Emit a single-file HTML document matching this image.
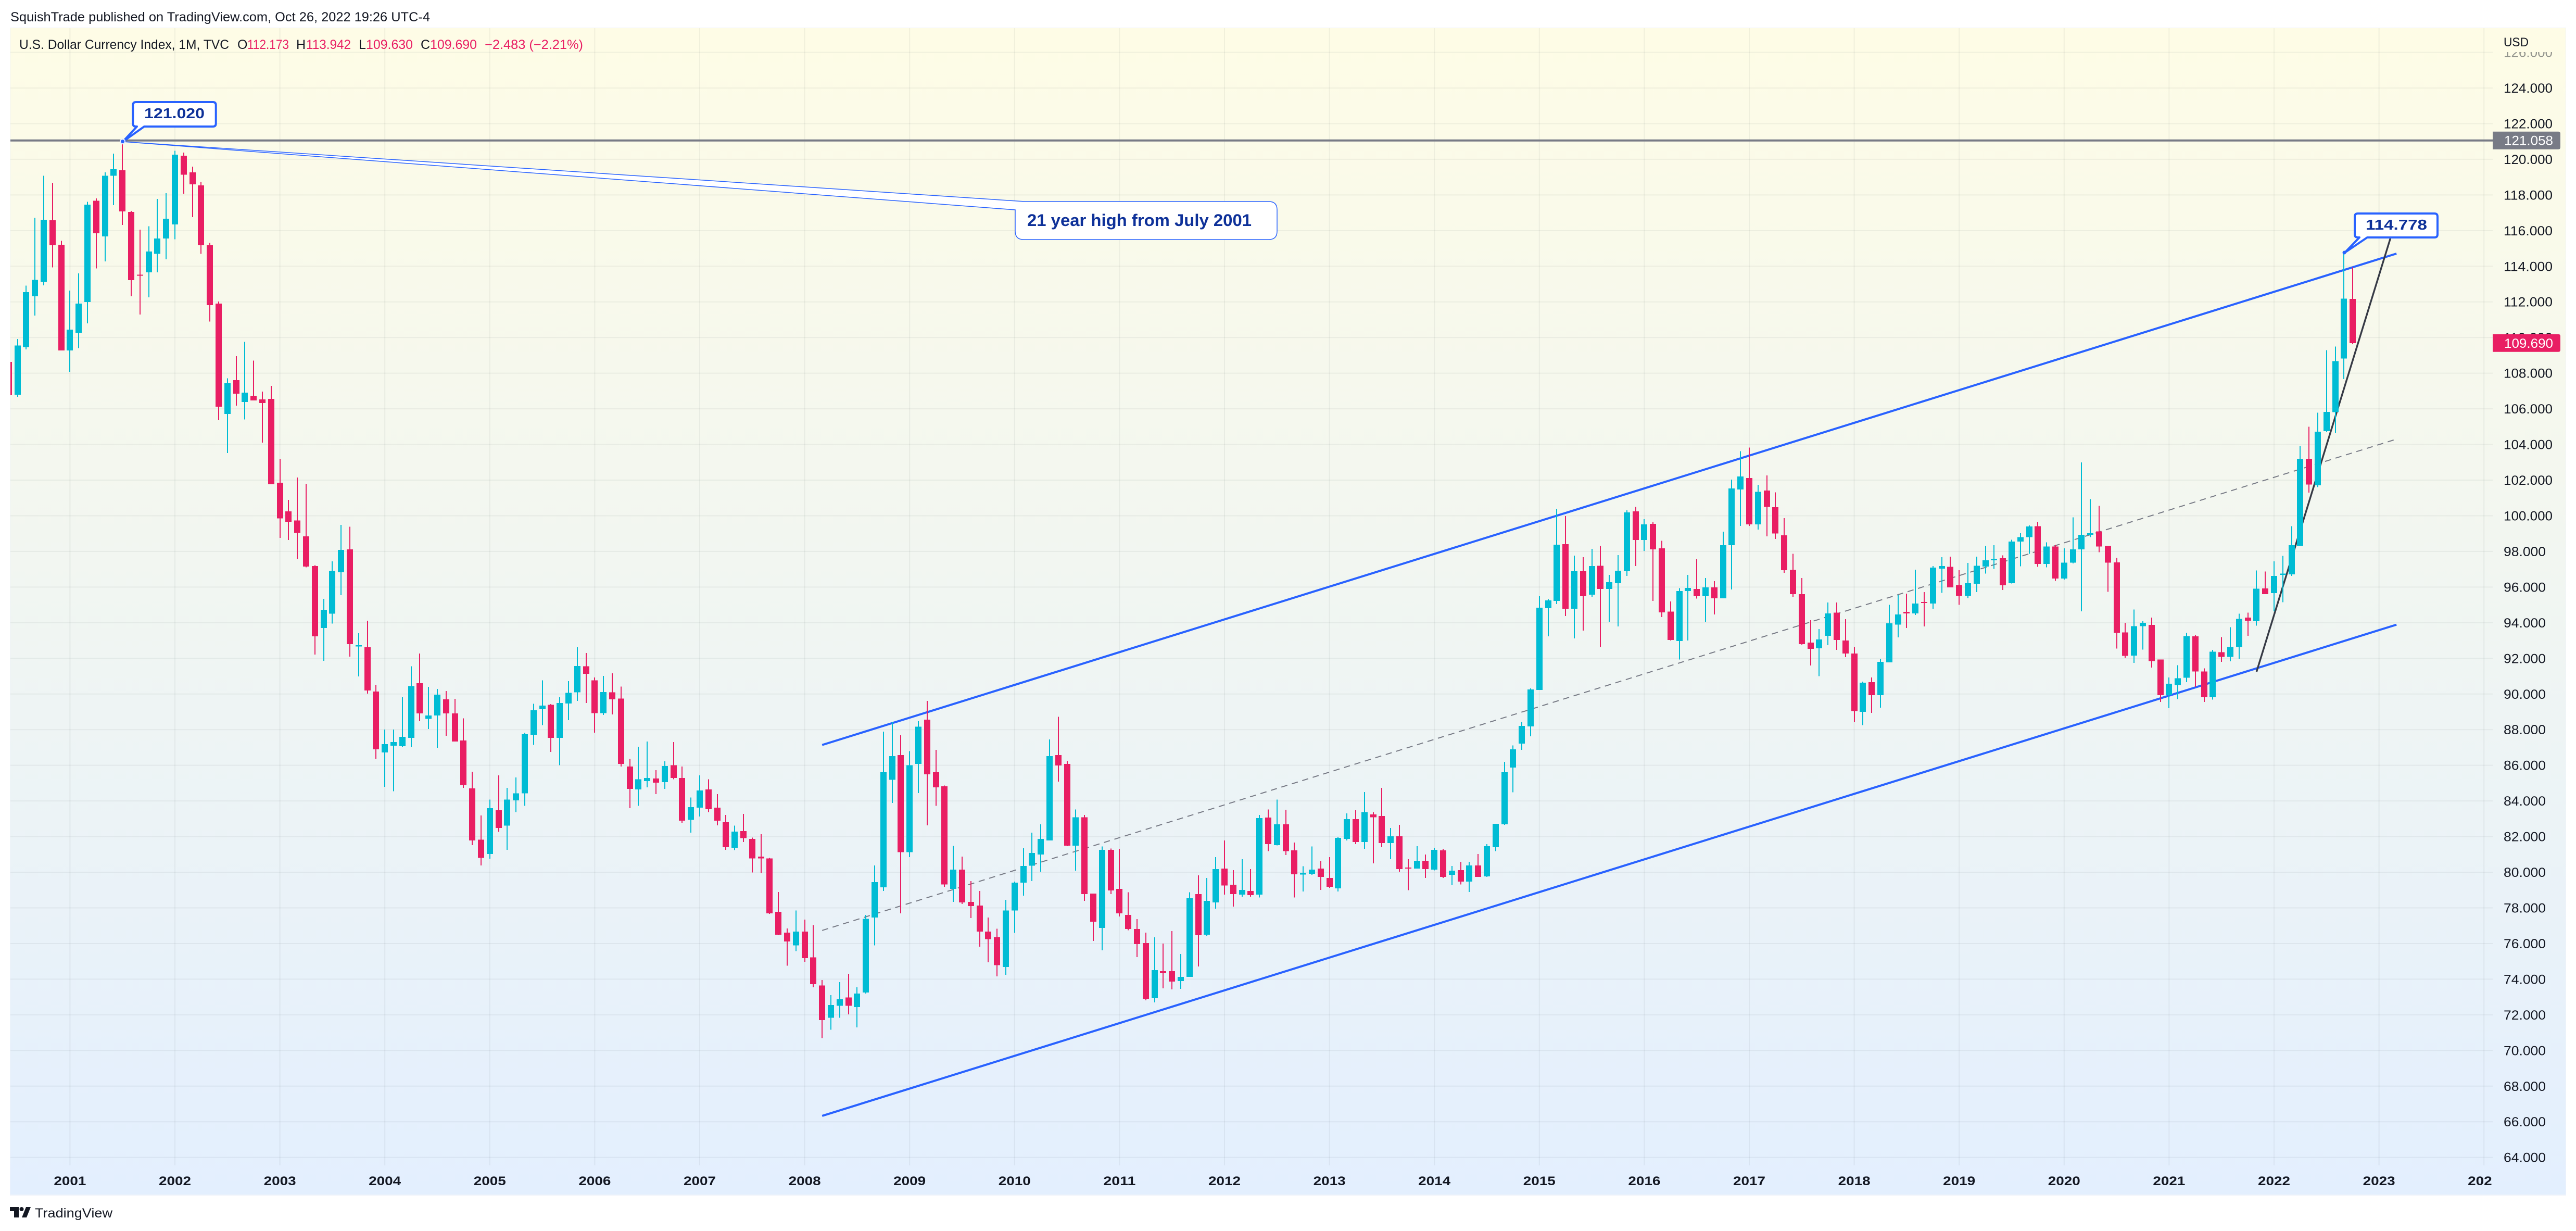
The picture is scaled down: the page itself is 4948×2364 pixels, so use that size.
<!DOCTYPE html>
<html lang="en">
<head>
<meta charset="utf-8">
<title>U.S. Dollar Currency Index, 1M, TVC</title>
<style>
html,body{margin:0;padding:0;background:#fff;width:4948px;height:2364px;overflow:hidden}
svg{display:block;font-family:"Liberation Sans",sans-serif}
</style>
</head>
<body>
<svg id="chart" xmlns="http://www.w3.org/2000/svg" width="4948" height="2364" viewBox="0 0 4948 2364">
  <defs>
    <linearGradient id="pane-bg" x1="0" y1="0" x2="0" y2="1">
      <stop offset="0" stop-color="#fefce6"/>
      <stop offset="1" stop-color="#e3effe"/>
    </linearGradient>
    <clipPath id="plot-clip"><rect x="20" y="54" width="4768" height="2184"/></clipPath>
    <clipPath id="axis-top-clip"><rect x="4788" y="100" width="140" height="2194"/></clipPath>
    <clipPath id="time-clip"><rect x="20" y="2238" width="4767" height="56"/></clipPath>
  </defs>

  <text x="20" y="41" font-size="25" fill="#131722" textLength="806" lengthAdjust="spacingAndGlyphs">SquishTrade published on TradingView.com, Oct 26, 2022 19:26 UTC-4</text>

  <rect x="19" y="53" width="4910" height="2243" fill="#f0f3fa"/>
  <rect x="20" y="54" width="4908" height="2240" fill="url(#pane-bg)"/>

  <g id="grid"></g>
  <g id="drawings" clip-path="url(#plot-clip)"></g>
  <g id="candles" clip-path="url(#plot-clip)"></g>

  <g font-size="25">
    <text x="37" y="94" fill="#131722" textLength="403" lengthAdjust="spacingAndGlyphs">U.S. Dollar Currency Index, 1M, TVC</text>
    <text x="456" y="94" fill="#131722">O</text>
    <text x="475" y="94" fill="#e91e63" textLength="80" lengthAdjust="spacingAndGlyphs">112.173</text>
    <text x="569" y="94" fill="#131722">H</text>
    <text x="588" y="94" fill="#e91e63" textLength="86" lengthAdjust="spacingAndGlyphs">113.942</text>
    <text x="689" y="94" fill="#131722">L</text>
    <text x="703" y="94" fill="#e91e63" textLength="90" lengthAdjust="spacingAndGlyphs">109.630</text>
    <text x="808" y="94" fill="#131722">C</text>
    <text x="826" y="94" fill="#e91e63" textLength="90" lengthAdjust="spacingAndGlyphs">109.690</text>
    <text x="931" y="94" fill="#e91e63" textLength="189" lengthAdjust="spacingAndGlyphs">−2.483 (−2.21%)</text>
  </g>

  <g id="callouts">
    <path d="M236,272 L1968,387 H2437 Q2453,387 2453,403 V444 Q2453,460 2437,460 H1966 Q1950,460 1950,444 V403 Z" fill="#fff" stroke="#2962ff" stroke-width="1.5"/>
    <text x="1973" y="434" font-size="32" font-weight="700" fill="#0e3199" textLength="431" lengthAdjust="spacingAndGlyphs">21 year high from July 2001</text>
    <path d="M236,272 L277,243 H409 Q414.7,243 414.7,237 V202 Q414.7,196 409,196 H261 Q255.3,196 255.3,202 V237 Q255.3,243 261,243 H263 Z" fill="#fff" stroke="#2962ff" stroke-width="4" stroke-linejoin="round"/>
    <text x="277" y="227" font-size="28" font-weight="700" fill="#0e3199" textLength="116" lengthAdjust="spacingAndGlyphs">121.020</text>
    <circle cx="235.5" cy="271.7" r="4.5" fill="#2962ff" stroke="#e8eeff" stroke-width="2"/>
    <path d="M4504,485 L4547,456 H4676 Q4682,456 4682,450 V416 Q4682,410 4676,410 H4529 Q4523,410 4523,416 V450 Q4523,456 4529,456 H4532 Z" fill="#fff" stroke="#2962ff" stroke-width="4" stroke-linejoin="round"/>
    <text x="4544" y="441" font-size="28" font-weight="700" fill="#0e3199" textLength="118" lengthAdjust="spacingAndGlyphs">114.778</text>
    <circle cx="4503" cy="485" r="3.5" fill="#2962ff"/>
  </g>

  <g id="price-axis"></g>
  <text x="4809" y="89" font-size="24" fill="#131722" textLength="48" lengthAdjust="spacingAndGlyphs">USD</text>
  <g id="time-axis" clip-path="url(#time-clip)"></g>

  <g fill="#131722">
    <path d="M19,2318 H36 V2338 H27 V2326 H19 Z"/>
    <circle cx="41.5" cy="2322" r="4"/>
    <path d="M50,2318 H59 L51,2338 H42 Z"/>
    <text x="67" y="2338" font-size="25" textLength="149" lengthAdjust="spacingAndGlyphs">TradingView</text>
  </g>
</svg>

<script>
// Chart data: monthly candles, first bar is seven months before Jan 2001.
const firstMonth = -7;
const opens = [
108.63,106.79,109.47,112.32,113.11,116.58,115.21,
109.28,110.27,111.99,117.68,115.68,119.08,119.38,117.04,113.52,113.66,114.69,115.55,
116.34,120.2,119.26,118.53,115.18,111.9,105.71,107.61,106.38,106.73,106.53,106.56,
101.86,100.25,99.73,98.84,97.18,93.71,94.5,96.83,98.12,92.67,92.62,90.14,
86.72,87.1,87.07,87.54,90.6,88.6,88.8,89.7,88.91,87.39,84.7,81.82,
81.03,83.48,82.61,84.03,84.42,87.71,89.15,89.4,87.54,89.47,90.09,91.55,
90.76,88.92,90.09,89.74,85.93,84.64,85.11,85.26,85.06,86.0,85.29,82.93,
83.62,84.64,83.62,82.81,81.37,82.31,81.87,80.88,80.78,77.78,76.61,75.89,
76.67,75.23,73.64,71.84,72.5,72.97,72.43,73.25,77.46,79.16,85.18,86.57,
81.13,86.08,88.56,85.61,84.82,79.07,80.15,78.33,78.13,76.67,76.37,74.68,
77.85,79.42,80.36,81.0,81.79,86.58,86.08,81.49,83.09,78.8,76.87,81.25,
79.06,77.6,76.82,76.03,72.93,74.45,74.45,73.9,74.13,78.78,76.49,78.31,
80.21,79.3,78.75,78.95,78.75,83.07,81.52,82.69,81.23,79.87,79.91,80.21,
79.68,79.1,81.87,82.98,81.7,83.25,83.16,81.63,82.02,80.26,80.21,80.64,
80.15,81.23,79.86,80.12,79.48,80.38,79.77,81.41,82.69,85.87,87.22,88.18,
90.23,94.82,95.22,98.4,94.78,96.89,95.57,97.2,95.9,96.21,96.89,100.25,
98.64,99.55,98.17,94.63,92.98,95.78,95.9,95.48,95.98,95.37,98.35,101.47,
102.12,99.51,101.42,100.48,98.9,96.96,95.6,92.89,92.56,93.27,94.56,93.0,
92.27,89.0,90.67,89.94,91.78,93.9,94.61,94.52,95.17,95.08,97.04,97.13,
96.12,95.5,96.19,97.15,97.5,97.62,96.22,98.55,98.8,99.42,97.3,98.27,
96.48,97.37,98.12,98.94,99.13,98.31,97.39,93.45,92.16,93.8,93.88,91.93,
89.93,90.5,90.91,93.23,91.26,89.82,92.35,92.08,92.63,94.29,94.09,95.93,
95.66,96.69,96.71,98.31,103.2,101.71,104.74,105.81,108.82,112.173];
const highs = [
108.63,109.92,112.91,116.71,119.07,118.68,115.42,
112.63,113.6,117.61,117.8,119.26,120.32,121.02,117.11,116.06,116.25,117.77,118.1,
120.48,120.38,119.59,118.72,115.31,112.02,107.71,108.96,109.75,108.71,106.97,107.29,
103.2,100.89,102.14,101.79,97.23,95.34,97.45,99.49,99.38,93.41,94.11,90.52,
88.0,88.0,89.82,91.55,92.27,90.4,90.29,90.17,89.73,88.63,85.64,83.18,
84.07,85.44,84.74,85.32,87.81,89.45,90.76,89.44,89.82,90.73,92.62,92.3,
90.93,91.01,91.16,90.41,86.35,87.04,87.34,85.73,86.23,87.31,85.93,84.2,
85.43,85.21,84.39,83.21,82.61,83.28,81.94,82.14,80.8,78.89,76.84,77.85,
77.34,77.03,73.96,73.1,73.84,74.31,73.54,77.61,80.38,87.89,88.43,87.69,
86.8,88.48,89.62,86.87,84.86,81.47,80.88,79.51,78.95,77.46,76.83,78.45,
79.47,81.35,82.22,82.69,87.45,88.72,86.24,83.52,83.21,78.8,81.44,81.33,
81.32,78.87,77.37,76.61,76.35,76.0,76.7,75.42,78.87,79.83,79.68,80.85,
81.79,80.12,80.73,80.17,83.21,83.52,84.08,83.5,81.67,80.33,81.44,80.64,
80.85,81.98,83.3,83.48,84.5,83.37,84.74,82.48,82.66,80.73,81.46,80.99,
81.37,81.31,80.35,80.59,80.59,81.02,81.58,82.72,86.2,87.12,88.43,90.32,
95.48,95.33,100.4,99.98,97.77,97.67,98.14,98.31,96.68,97.79,100.3,100.49,
99.81,99.63,98.59,95.2,95.94,96.68,97.56,96.51,96.33,99.11,102.03,103.62,
103.82,101.74,102.27,101.32,99.87,97.86,96.51,94.14,93.64,95.13,95.13,94.2,
92.63,90.7,90.93,91.97,95.01,95.57,95.63,96.97,95.72,97.18,97.67,97.7,
96.94,97.36,97.7,98.31,98.35,97.78,98.66,99.02,99.46,99.66,98.51,98.37,
98.18,99.91,103.0,100.93,100.56,98.31,97.63,94.0,94.74,94.09,94.29,91.93,
90.93,91.61,93.43,93.31,91.44,92.47,93.19,93.74,94.5,94.56,96.93,96.87,
97.45,97.75,99.41,103.92,104.99,105.79,109.29,109.5,114.778,113.942];
const lows = [
106.76,106.67,109.34,111.23,112.93,113.93,109.28,
108.08,109.4,110.8,113.87,114.27,117.43,116.31,112.32,111.29,112.26,113.66,114.39,
115.52,118.07,116.76,114.7,110.89,105.36,103.52,106.18,105.4,106.47,104.11,101.77,
98.76,98.64,97.57,97.1,92.22,91.86,93.95,95.54,92.1,90.99,90.02,86.35,
84.79,84.55,87.02,87.02,88.48,88.04,86.98,87.65,87.34,84.74,81.52,80.38,
80.76,82.27,81.25,83.38,83.73,87.14,88.26,86.75,86.01,88.53,89.62,89.5,
87.83,88.83,88.85,85.93,83.6,83.72,84.76,84.39,84.67,85.21,82.78,82.22,
83.13,83.37,82.63,81.25,81.24,81.69,79.99,79.94,77.66,76.46,74.75,75.58,
74.98,73.54,70.69,71.17,71.83,72.03,71.29,73.2,75.89,78.95,83.89,77.7,
80.85,84.44,82.63,83.72,79.19,78.33,78.22,77.43,75.82,74.95,74.16,74.24,
76.59,78.69,79.51,80.03,81.79,85.09,81.46,80.09,78.4,76.14,75.62,78.78,
77.52,76.75,75.24,72.82,72.7,73.49,73.43,73.46,74.13,74.72,76.44,77.95,
78.75,78.07,78.63,78.63,78.59,81.18,81.5,80.97,78.59,78.92,79.86,79.01,
79.13,78.92,81.79,81.58,81.32,80.5,81.41,80.73,80.03,78.99,80.21,79.68,
80.1,79.68,79.27,79.32,78.89,79.74,79.74,81.18,82.66,84.48,86.86,87.63,
90.23,93.24,95.05,94.37,93.12,93.55,95.46,92.63,94.05,93.79,96.63,97.18,
98.03,95.22,94.32,93.0,91.93,93.0,95.35,94.05,94.47,95.37,95.86,99.43,
99.43,99.23,98.85,98.7,96.8,95.46,92.77,91.6,91.0,92.74,92.47,92.06,
88.41,88.25,88.94,89.24,91.78,93.17,93.71,94.44,93.79,94.78,95.67,95.98,
95.01,95.39,95.72,96.75,97.02,95.84,96.2,97.16,97.86,97.14,97.1,96.34,
96.42,97.32,94.64,98.8,97.96,95.73,92.55,92.02,91.75,92.49,91.48,89.56,
89.21,89.72,90.66,90.4,89.56,89.68,91.81,91.83,91.96,93.27,93.84,95.6,
94.64,95.15,96.63,98.31,101.3,101.61,104.7,104.64,107.67,109.63];
const closes = [
106.76,109.56,112.55,113.24,116.61,115.18,109.28,
110.44,111.9,117.46,115.85,119.08,119.44,117.07,113.22,113.48,114.82,115.55,116.67,
120.26,119.13,118.59,115.18,111.81,106.12,107.43,106.85,106.91,106.47,106.33,101.77,
99.86,99.66,99.03,97.15,93.24,94.73,96.9,98.09,92.8,92.74,90.2,86.9,
87.19,87.3,87.6,90.45,88.91,88.8,89.97,88.91,87.34,84.89,81.79,80.81,
83.6,82.49,84.07,84.42,87.74,89.08,89.35,87.54,89.5,90.06,91.57,91.13,
88.92,90.11,89.7,86.08,84.67,85.21,85.29,85.03,85.96,85.29,82.9,83.65,
84.59,83.53,82.9,81.4,82.28,81.91,80.78,80.78,77.7,76.49,76.12,76.67,
75.18,73.72,71.71,72.55,72.87,72.5,73.2,77.38,79.44,85.61,86.52,81.12,
86.0,88.16,85.49,84.76,79.31,80.15,78.3,78.1,76.67,76.25,74.78,77.85,
79.42,80.35,81.08,81.87,86.52,85.99,81.49,83.09,78.78,77.22,81.25,78.98,
77.69,76.82,75.97,72.9,74.51,74.33,73.87,74.13,78.54,76.47,78.4,80.17,
79.25,78.78,79.01,78.71,83.04,81.58,82.69,81.18,79.88,79.95,80.15,79.74,
79.18,81.93,82.98,81.7,83.37,83.09,81.63,82.02,80.17,80.22,80.64,80.17,
81.25,79.74,80.09,79.48,80.38,79.74,81.46,82.72,85.61,86.9,88.21,90.25,
94.84,95.25,98.38,94.78,96.89,95.48,97.18,95.9,96.28,96.92,100.19,98.64,
99.51,98.12,94.58,93.03,95.78,95.95,95.48,95.98,95.37,98.35,101.53,102.2,
99.51,101.35,100.5,99.0,96.94,95.6,92.8,92.53,93.06,94.52,93.03,92.27,
89.05,90.63,89.94,91.8,93.97,94.47,94.52,95.08,95.1,97.09,97.18,95.98,
95.5,96.21,97.2,97.5,97.57,96.1,98.55,98.8,99.4,97.3,98.27,96.48,
97.37,98.12,98.94,99.02,98.27,97.37,93.43,92.14,93.8,94.0,91.85,89.93,
90.58,90.89,93.25,91.26,89.82,92.37,92.08,92.63,94.21,94.11,95.91,95.6,
96.63,96.75,98.35,103.2,101.75,104.72,105.83,108.68,112.18,109.69];

const priceTicks = [64,66,68,70,72,74,76,78,80,82,84,86,88,90,92,94,96,98,100,102,104,106,108,110,112,114,116,118,120,122,124,126];
const yearTicks = [2001,2002,2003,2004,2005,2006,2007,2008,2009,2010,2011,2012,2013,2014,2015,2016,2017,2018,2019,2020,2021,2022,2023,2024];

const horizontalLevel = 121.058;
const lastPrice = 109.69;
const channelMonths = [86, 266];
const channelUpper = [87.14, 114.71];
const channelLower = [66.33, 93.89];
const trendMonths = [250, 265.3];
const trendPrices = [91.25, 115.56];

const NS = 'http://www.w3.org/2000/svg';
const xOf = m => 134.4 + m * 16.8;
const yOf = p => 169 + (124 - p) * 34.228;

function make(tag, attrs, parent, text) {
  const el = document.createElementNS(NS, tag);
  for (const k in attrs) el.setAttribute(k, attrs[k]);
  if (text !== undefined) el.textContent = text;
  parent.appendChild(el);
  return el;
}

const gridG = document.getElementById('grid');
const drawG = document.getElementById('drawings');
const candleG = document.getElementById('candles');
const priceG = document.getElementById('price-axis');
const timeG = document.getElementById('time-axis');
const GRID = 'rgba(42,46,57,0.06)';

// horizontal grid + price labels
priceTicks.forEach(p => {
  const y = yOf(p);
  const line = make('line', {x1: 20, x2: 4788, y1: y, y2: y, stroke: GRID, 'stroke-width': 2}, gridG);
  
  
  const s = p.toFixed(3);
  const label = make('text', {x: 4809, y: y + 9, 'font-size': 25, fill: '#131722', textLength: s.length === 7 ? 94 : 81, lengthAdjust: 'spacingAndGlyphs', 'clip-path': 'url(#axis-top-clip)'}, priceG, s);
  if (p === 126) label.setAttribute('opacity', '0.45');
  
  
});

// vertical grid + year labels
yearTicks.forEach(yr => {
  const x = xOf((yr - 2001) * 12);
  const line = make('line', {x1: x, x2: x, y1: 54, y2: 2238, stroke: GRID, 'stroke-width': 2}, gridG);
  
  
  const label = make('text', {x: x - 31, y: 2276, 'font-size': 24, 'font-weight': 700, fill: '#131722', textLength: 62, lengthAdjust: 'spacingAndGlyphs'}, timeG, String(yr));
  
  
});

// drawings, behind the candles
const level = make('line', {x1: 20, x2: 4788, y1: yOf(horizontalLevel), y2: yOf(horizontalLevel), stroke: '#787b86', 'stroke-width': 4}, drawG);



const upper = make('line', {x1: xOf(channelMonths[0]), y1: yOf(channelUpper[0]), x2: xOf(channelMonths[1]), y2: yOf(channelUpper[1]), stroke: '#2962ff', 'stroke-width': 4}, drawG);



const lower = make('line', {x1: xOf(channelMonths[0]), y1: yOf(channelLower[0]), x2: xOf(channelMonths[1]), y2: yOf(channelLower[1]), stroke: '#2962ff', 'stroke-width': 4}, drawG);



const mid = make('line', {x1: xOf(channelMonths[0]), y1: yOf((channelUpper[0] + channelLower[0]) / 2), x2: xOf(channelMonths[1]), y2: yOf((channelUpper[1] + channelLower[1]) / 2), stroke: '#787b86', 'stroke-width': 2, 'stroke-dasharray': '12 9'}, drawG);



const trend = make('line', {x1: xOf(trendMonths[0]), y1: yOf(trendPrices[0]), x2: xOf(trendMonths[1]), y2: yOf(trendPrices[1]), stroke: '#363a45', 'stroke-width': 3.4}, drawG);



// candles
opens.forEach((o, k) => {
  const c = closes[k];
  const cx = Math.round(xOf(firstMonth + k));
  const color = c >= o ? '#00bcd4' : '#e91e63';
  const wick = make('rect', {x: cx - 1, y: yOf(highs[k]), width: 2, height: Math.max(1, yOf(lows[k]) - yOf(highs[k])), fill: color, 'shape-rendering': 'crispEdges'}, candleG);
  
  
  const top = yOf(Math.max(o, c));
  const body = make('rect', {x: cx - 6, y: top, width: 12, height: Math.max(2, yOf(Math.min(o, c)) - top), fill: color, 'shape-rendering': 'crispEdges'}, candleG);
  
  
});

// price labels on the axis
const levelBox = make('path', {d: 'M4788,' + (yOf(horizontalLevel) - 17) + ' H4914 q4,0 4,4 V' + (yOf(horizontalLevel) + 13) + ' q0,4 -4,4 H4788 Z', fill: '#787b86'}, priceG);


const levelText = make('text', {x: 4810, y: yOf(horizontalLevel) + 9, 'font-size': 25, fill: '#fff', textLength: 94, lengthAdjust: 'spacingAndGlyphs'}, priceG, horizontalLevel.toFixed(3));


const lastBox = make('path', {d: 'M4788,' + (yOf(lastPrice) - 17) + ' H4914 q4,0 4,4 V' + (yOf(lastPrice) + 13) + ' q0,4 -4,4 H4788 Z', fill: '#e91e63'}, priceG);


const lastText = make('text', {x: 4810, y: yOf(lastPrice) + 9, 'font-size': 25, fill: '#fff', textLength: 94, lengthAdjust: 'spacingAndGlyphs'}, priceG, lastPrice.toFixed(3));


</script>
</body>
</html>
